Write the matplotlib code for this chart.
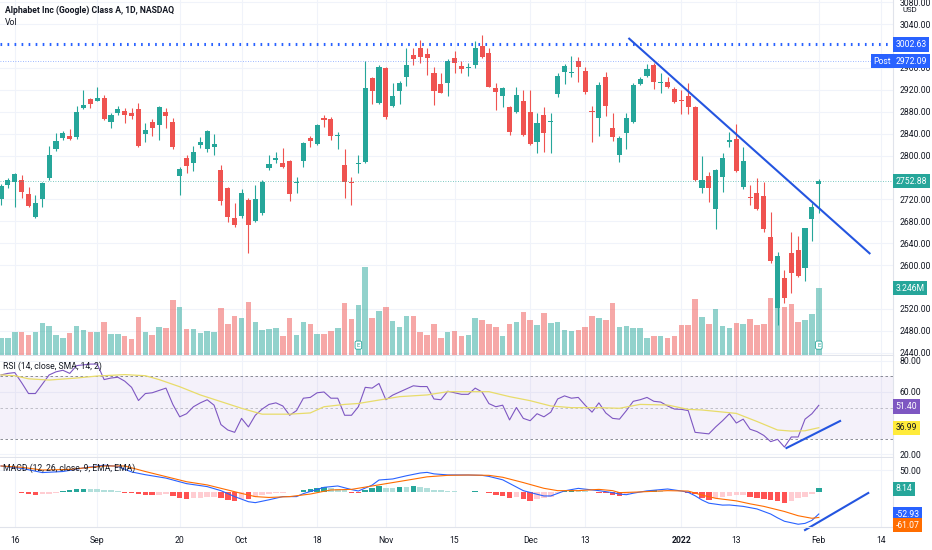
import numpy as np
import matplotlib
matplotlib.use("Agg")
from matplotlib import pyplot as plt
from matplotlib.transforms import blended_transform_factory

plt.rcParams['font.family'] = ['Roboto', 'DejaVu Sans']

# daily candles, 12 Aug 2021 .. 1 Feb 2022 (index = trading day)
opens = [2720, 2746, 2751, 2755.4, 2729.8, 2688.4, 2720.6, 2759.6, 2811.3, 2832.6,
         2835.6, 2833.2, 2887.3, 2902.5, 2900.1, 2904.3, 2861.8, 2877, 2881.9, 2878.2,
         2884.3, 2839.3, 2860.6, 2855.7, 2879.4, 2861.2, 2763.2, 2795.5, 2787, 2819.8,
         2811.3, 2816.2, 2773.5, 2740.7, 2686.6, 2689.6, 2718.8, 2681.1, 2694.5, 2777.8,
         2791.8, 2786.9, 2790, 2749.2, 2790.6, 2832.6, 2821.6, 2867.8, 2866.6, 2836.2,
         2783.3, 2752.3, 2784.5, 2788.8, 2942.1, 2896.4, 2960.3, 2890.4, 2918.3, 2942.7,
         2984, 2996.2, 2985.3, 2950, 2929.9, 2932.9, 2977.3, 2963.4, 2960.3, 2965.2,
         2999.9, 2986.5, 2922.6, 2908.6, 2887.9, 2880, 2900.1, 2880, 2825.3, 2873.3,
         2861.8, 2911.6, 2951.8, 2951.2, 2973.1, 2954.8, 2881.2, 2867.8, 2942.7, 2849.6,
         2800.9, 2841.7, 2861.8, 2930.5, 2945.1, 2965.2, 2932.9, 2934.8, 2920.8, 2901.3,
         2908.6, 2889.1, 2740.1, 2763.2, 2701.8, 2761.4, 2824, 2830.7, 2741.9, 2724.9,
         2731, 2726.1, 2651.9, 2521.1, 2575.8, 2622.7, 2627.6, 2594.1, 2683.5, 2748]
highs = [2748, 2758.5, 2768.7, 2764.5, 2742, 2728, 2752, 2817.4, 2841.7, 2845.4,
         2847.8, 2890.4, 2919.6, 2904.3, 2924.4, 2909.8, 2878.2, 2891, 2887.3, 2886,
         2895.2, 2860, 2867.2, 2890.4, 2886, 2869.1, 2779.7, 2801, 2817.4, 2833.2,
         2846.6, 2839.3, 2782.7, 2743.1, 2712.7, 2738.3, 2721.8, 2746.2, 2755.3, 2800.9,
         2805.8, 2813.1, 2791.8, 2761.4, 2825.3, 2835.6, 2856.9, 2873.9, 2870.9, 2843.5,
         2811.3, 2761.4, 2800.9, 2972.5, 2943.9, 2964.6, 2962.1, 2933, 2936, 2995.6,
         2995.6, 3010.8, 2995.6, 2962.1, 2951.2, 2975.5, 2991.3, 2973.1, 2969.4, 3009.6,
         3019.9, 2995.6, 2932.9, 2924.4, 2890.4, 2925.6, 2919.5, 2919.5, 2878.2, 2887.9,
         2877, 2950, 2967, 2981.6, 2979.2, 2960.9, 2890.4, 2933.6, 2953, 2877,
         2835.6, 2877, 2931.7, 2943.9, 2966.4, 2968.2, 2950, 2943.9, 2925.6, 2919.5,
         2931.7, 2890.4, 2799.1, 2770.5, 2774.8, 2804, 2843.5, 2856.9, 2816.1, 2746.2,
         2758.4, 2752.3, 2697.5, 2624.5, 2591, 2661, 2653.1, 2668.3, 2713.9, 2757]
lows = [2710, 2741.5, 2706.8, 2723, 2706.8, 2685.4, 2706.8, 2755.4, 2808.3, 2828.4,
        2828.4, 2830.8, 2884.9, 2886.1, 2898.9, 2864.8, 2849.6, 2874, 2860, 2866,
        2816.2, 2825.3, 2835.6, 2828.4, 2849.6, 2811.3, 2728, 2767.5, 2772.4, 2813.1,
        2807, 2801, 2709.7, 2679.3, 2670.2, 2685.4, 2621.5, 2679.3, 2691.4, 2773.5,
        2785.7, 2776.6, 2717, 2731, 2778.4, 2816.1, 2819.2, 2851.4, 2828.3, 2811.3,
        2721.9, 2709.7, 2767.5, 2786.9, 2894, 2894, 2866, 2887.9, 2894, 2926.9,
        2965.2, 2969.4, 2947, 2892.2, 2913.5, 2908.6, 2951.2, 2950, 2945.1, 2959.1,
        2978, 2924.4, 2883, 2889.1, 2837.4, 2877, 2835.6, 2819.2, 2805.2, 2807,
        2804, 2906.2, 2929.9, 2942.7, 2934.8, 2912.3, 2825.3, 2835.6, 2872.1, 2827.1,
        2788.8, 2811.3, 2858.7, 2928.7, 2943.9, 2920.8, 2913.5, 2922.6, 2896.4, 2875.7,
        2875.7, 2754.1, 2732.2, 2715.8, 2665.3, 2734, 2814.9, 2770.5, 2738.3, 2709.7,
        2700.6, 2661, 2603.2, 2490.7, 2530.2, 2548.5, 2578.9, 2571.6, 2644.6, 2695]
closes = [2744.5, 2754.5, 2766.3, 2733.5, 2708.5, 2714, 2749.3, 2801, 2825.9, 2841.7,
          2829.5, 2880, 2892.2, 2894, 2905, 2866, 2874, 2885.5, 2874, 2872.1,
          2817.4, 2846.6, 2850.8, 2888.5, 2872.1, 2815, 2774.8, 2781, 2805.8, 2824.7,
          2844.8, 2821, 2717.6, 2688.4, 2673.2, 2731, 2673.8, 2721.3, 2752.3, 2784.5,
          2796.1, 2778.4, 2729.8, 2752.3, 2823.5, 2827.1, 2855, 2864.8, 2835.6, 2838,
          2752.3, 2749.2, 2786.9, 2923.8, 2917.1, 2960.9, 2869.6, 2908.6, 2932.9, 2965.8,
          2976.7, 2980.4, 2978, 2917.7, 2914.7, 2972.5, 2969.4, 2957.3, 2961.5, 2996.8,
          2979.2, 2925.6, 2915.9, 2922.6, 2843.5, 2910.4, 2837.4, 2821, 2860, 2840.5,
          2863.6, 2945.1, 2963.4, 2953, 2960.9, 2916.5, 2879.4, 2928.7, 2890.4, 2834.4,
          2831.3, 2867.8, 2928.7, 2939, 2958.5, 2933.6, 2934.2, 2924.4, 2897.6, 2899.5,
          2887.9, 2755.3, 2755.3, 2741.3, 2773.5, 2794.8, 2827.7, 2771.7, 2790, 2721.8,
          2702.4, 2665.9, 2608, 2616.6, 2539.4, 2586.2, 2580.1, 2667.1, 2706.6, 2752.88]
# volume, millions of shares
volumes = [0.82, 0.82, 1.11, 1.11, 0.97, 1.11, 1.55, 1.41, 0.97, 0.82,
           1.07, 1.41, 1.21, 1.11, 1.11, 1.60, 1.02, 1.02, 0.92, 0.78,
           1.84, 1.11, 0.97, 1.36, 1.31, 2.66, 2.33, 1.26, 1.26, 1.07,
           1.16, 1.11, 2.28, 1.50, 1.89, 1.79, 2.57, 1.60, 1.21, 1.26,
           1.31, 0.92, 1.79, 0.97, 1.60, 1.50, 1.02, 1.02, 1.16, 1.31,
           2.52, 1.74, 2.42, 4.26, 1.79, 2.13, 2.33, 1.65, 1.36, 1.89,
           1.89, 1.11, 0.97, 1.50, 0.82, 1.11, 1.16, 0.92, 0.97, 1.79,
           1.70, 1.50, 1.36, 0.92, 1.50, 1.60, 2.08, 1.70, 1.45, 2.03,
           1.55, 1.60, 1.21, 1.16, 1.21, 1.36, 1.89, 1.79, 1.70, 2.52,
           1.36, 1.41, 1.31, 1.31, 0.82, 0.92, 0.92, 0.82, 0.92, 1.45,
           1.45, 2.71, 1.84, 1.50, 2.23, 1.41, 1.31, 1.55, 1.50, 1.74,
           1.45, 1.50, 2.76, 2.81, 2.33, 2.47, 1.60, 1.70, 1.99, 3.246]

rsi = [71, 72, 72.5, 66, 59, 59, 65, 71, 73, 74,
       72, 77, 77.5, 78, 78, 68, 69, 69.5, 67, 63,
       54.5, 59, 59.5, 61, 62.5, 52, 44, 46, 50.5, 53,
       55, 51.5, 39, 35.5, 34, 43, 37.5, 45, 49, 52,
       53, 51, 45, 48, 56, 56.5, 59.5, 60, 56, 56,
       45, 45, 50.5, 63, 62.5, 65.5, 55, 58, 60, 62,
       64, 63.5, 63.5, 55.5, 55, 60.5, 59.5, 58.5, 58.5, 62.5,
       60, 52.5, 50.5, 51.5, 42, 50, 43, 41.5, 46, 44,
       47, 55.5, 57.5, 56, 56.5, 51.5, 47, 53, 46.5, 43,
       42.5, 48, 54, 55, 56.5, 54, 53.5, 51, 49, 48.8,
       48, 34, 33.5, 33, 37.5, 41.5, 46, 40, 42.5, 36,
       34.5, 32, 28, 29.5, 24.5, 31, 31, 42.5, 46, 51.4]
rsi_ma_x = [0, 2, 4, 7, 11, 14, 18, 21, 23, 26, 29, 32, 35, 38, 42, 45, 47, 50, 52, 55,
            58, 62, 65, 68, 71, 74, 77, 80, 83, 87, 90, 93, 97, 100, 102, 107, 110, 113,
            115, 117, 119]
rsi_ma = [71, 70.5, 68.5, 67.7, 69, 70.3, 71.2, 70.5, 68, 63.4, 58.1, 53.8, 49.5, 45.7,
          45.7, 46.5, 50.5, 52, 52.6, 54.8, 57, 58.1, 60.2, 60.2, 60.2, 57, 54.4, 51, 49.9,
          49.9, 49.5, 52, 51.6, 48.8, 48.4, 46.2, 41, 35.5, 34.8, 35, 36.99]

macd_x = [0, 3, 6, 9, 12, 15, 17, 19, 21, 24, 27, 30, 32, 34, 36, 37, 39, 41, 43, 44,
          45, 47, 49, 51, 52, 54, 55, 57, 59, 61, 62, 63, 65, 68, 70, 71, 73, 75, 76, 78,
          79, 80, 82, 84, 85, 87, 89, 90, 91, 92, 94, 97, 99, 100, 101, 102, 103, 105, 106,
          108, 110, 112, 113, 114, 116, 117, 118, 119]
macd_line = [60, 54.5, 44.5, 47, 55.5, 62, 59, 46, 39.5, 31.5, 18.5, 11.5, 2, -12, -24,
             -26.2, -19.5, -12, -12, -5, 0, 9.8, 13, 4.5, 1.2, 15, 27, 29.5, 37, 43.5, 45,
             41.5, 39, 38.8, 38, 35.5, 27.5, 10.5, 2, -6.5, -10.5, -10.5, 1.5, 7.4, 5.5, 2,
             -2.7, -6, -7.5, -4, 1.5, 5.9, 1.2, -2, -10, -20, -27.5, -32, -31.7, -35, -41,
             -53, -62, -70, -77, -75, -68, -52.93]
signal_x = [0, 3, 6, 10, 15, 18, 21, 24, 27, 30, 33, 35, 37, 39, 42, 45, 47, 48, 51, 54,
            57, 60, 62, 65, 68, 71, 73, 76, 79, 81, 84, 87, 89, 90, 93, 97, 100, 102, 104,
            107, 109, 111, 114, 116, 118, 119]
signal_line = [60, 57, 50.5, 52, 60, 60, 47, 35, 23, 15.5, 3.5, -4.5, -12, -14, -12, -6,
               0.5, 3.6, 5, 13, 21, 29, 34.5, 38, 38.8, 38, 33.5, 21, 7.5, 2, 2, 5, 2, -2.7,
               -1, 2, 1, -8.5, -16, -22, -29, -35, -47, -57, -63, -61.07]
macd_hist = [-1.6, -1.6, 0, -4.7, -7, -9.4, -6.3, -5.5, -3.1, 1.6,
             3.1, 6.3, 7, 7, 5.5, 3.9, 2.4, 0.8, -2.4, -3.1,
             -6.3, -8.6, -9.4, -7.8, -6.3, -11, -15.7, -17.2, -15.7, -14.9,
             -12.5, -11.8, -15.7, -19.6, -22, -17.2, -18.8, -13.3, -9.4, -5.5,
             -3.1, -2.4, -1.6, 0, 3.1, 5.8, 9.4, 11, 9.4, 7,
             3.1, -2.4, -2.4, 4.7, 8.6, 13.3, 9.4, 9.4, 11, 11,
             11.8, 11, 9.4, 4.7, 2.4, 1.6, 0.8, 0, -0.8, 0.8,
             0, -4.7, -7.8, -10.2, -15.7, -12.5, -17.2, -21.2, -17.2, -15.7,
             -12.5, -4.7, 1.6, 3.9, 2.4, 0.8, -1.6, -3.1, -3.9, -7.8,
             -11, -7, -3.1, -0.8, 1.6, 2.4, 0.8, 0, -0.8, -0.8,
             -2.4, -7, -14.9, -19.6, -15.7, -12.5, -10.2, -9.4, -8.6, -11.8,
             -14.9, -17.2, -19.6, -22, -27.4, -21.2, -15.7, -11.8, -5.5, 8.14]

tick_idx = [2, 14, 26, 35, 46, 56, 66, 77, 85, 99, 107, 119, 128]
tick_labels = ['16', 'Sep', '20', 'Oct', '18', 'Nov', '15', 'Dec', '13', '2022', '13', 'Feb', '14']
price_ticks = [2440, 2480, 2520, 2600, 2640, 2680, 2720, 2800, 2840, 2880, 2920, 2960, 3040, 3080]

GREEN, RED = '#26a69a', '#ef5350'
BLUE, ORANGE, PURPLE = '#2962ff', '#ff6d00', '#7e57c2'
TXT, GRID, LINE = '#131722', '#f0f3fa', '#e0e3eb'
FS = 6.2

x = np.arange(len(closes))
o, h, l, c = map(np.array, (opens, highs, lows, closes))
up = c >= o
colors = np.where(up, GREEN, RED)

fig = plt.figure(figsize=(9.32, 5.5), dpi=100)
W, H, RIGHT = 932.0, 550.0, 893.0


def pane(top, bottom, **kw):
    return fig.add_axes([0, 1 - bottom / H, RIGHT / W, (bottom - top) / H], **kw)


def style(a):
    a.yaxis.tick_right()
    a.tick_params(length=0, labelsize=FS, labelcolor=TXT, pad=4.5)
    for s in ['top', 'left']:
        a.spines[s].set_visible(False)
    for s in ['right', 'bottom']:
        a.spines[s].set_color(LINE)
        a.spines[s].set_linewidth(0.8)
    a.grid(color=GRID, lw=0.8)
    a.set_axisbelow(True)
    a.tick_params(axis='x', labelbottom=False)


def tag(a, y, text, fc, tc='white'):
    tr = blended_transform_factory(a.transAxes, a.transData)
    a.text(1.003, y, text, transform=tr, ha='left', va='center', fontsize=FS, color=tc,
           bbox=dict(boxstyle='square,pad=0.3', fc=fc, ec='none'), clip_on=False, zorder=10)


ax_bg = pane(0, 355)
ax_vol = pane(0, 355, sharex=ax_bg)
ax = pane(0, 355, sharex=ax_bg, sharey=ax_bg)
ax_rsi = pane(356, 457, sharex=ax_bg)
ax_macd = pane(458, 527, sharex=ax_bg)

for a in (ax_bg, ax_rsi, ax_macd):
    style(a)

ax_bg.set_xlim(-0.15, 129.8)
ax_bg.set_xticks(tick_idx)
ax_bg.set_xticklabels(tick_labels)
ax_macd.tick_params(axis='x', labelbottom=True, pad=6.5)
for lab in ax_macd.get_xticklabels():
    if lab.get_text() == '2022':
        lab.set_fontweight('bold')

# price pane
ax_bg.set_ylim(2436, 3083.8)
ax_bg.set_yticks(price_ticks)
ax_bg.set_yticklabels([f'{v:.2f}' for v in price_ticks])

ax_vol.bar(x, volumes, width=0.8, color=colors, alpha=0.5, linewidth=0)
ax_vol.set_ylim(0, 17.2)
ax_vol.axis('off')

ax.axis('off')
ax.vlines(x, l, h, color=colors, lw=0.8)
ax.bar(x, np.maximum(np.abs(c - o), 0.9), bottom=np.minimum(o, c), width=0.74,
       color=colors, linewidth=0)

ax.axhline(3002.63, color=BLUE, lw=2.2, ls=(0, (0.55, 1.75)))
ax.axhline(2972.09, color=BLUE, lw=0.6, ls=(0, (1, 2)), alpha=0.6)
ax.axhline(closes[-1], color=GREEN, lw=0.6, ls=(0, (1, 2)), alpha=0.8)
ax.plot([91.3, 126.5], [3014.5, 2620.3], color='#2455e0', lw=1.5, solid_capstyle='butt')

for i in (52, 119):
    ax.text(i, 2454, 'E', ha='center', va='center', fontsize=4.5, color=GREEN,
            bbox=dict(boxstyle='round,pad=0.25', fc='white', ec=GREEN, lw=0.6))

ax.text(0.006, 0.972, 'Alphabet Inc (Google) Class A, 1D, NASDAQ', transform=ax.transAxes,
        fontsize=FS, color=TXT, fontweight='semibold', va='center')
ax.text(0.006, 0.937, 'Vol', transform=ax.transAxes, fontsize=FS, color=TXT, va='center')

tag(ax_bg, 3002.63, '3002.63', BLUE)
tag(ax_bg, 2972.09, '2972.09', BLUE)
tr = blended_transform_factory(ax_bg.transAxes, ax_bg.transData)
ax_bg.text(0.998, 2972.09, 'Post', transform=tr, ha='right', va='center', fontsize=FS,
           color='white', bbox=dict(boxstyle='square,pad=0.3', fc=BLUE, ec='none'), zorder=10)
tag(ax_bg, closes[-1], f'{closes[-1]:.2f}', GREEN)
tag(ax_bg, 2436 + (3083.8 - 2436) * volumes[-1] / 17.2, f'{volumes[-1]:.3f}M', GREEN)
ax_bg.text(1.011, 0.972, 'USD', transform=ax_bg.transAxes, ha='left', va='center',
           fontsize=FS - 0.6, color=TXT, clip_on=False, zorder=10)

# RSI pane
ax_rsi.set_ylim(18.1, 83.2)
ax_rsi.set_yticks([20, 60, 80])
ax_rsi.set_yticklabels(['20.00', '60.00', '80.00'])
ax_rsi.axhspan(30, 70, color=PURPLE, alpha=0.08, lw=0)
for lvl, al in ((70, 1), (50, 0.5), (30, 1)):
    ax_rsi.axhline(lvl, color='#787b86', lw=0.6, ls=(0, (3, 3)), alpha=al)
ax_rsi.plot(x, rsi, color=PURPLE, lw=0.8)
ax_rsi.plot(rsi_ma_x, rsi_ma, color='#e8dc6a', lw=0.9)
ax_rsi.plot([114.3, 122.1], [23.9, 41.3], color='#2455e0', lw=1.5)
ax_rsi.text(0.003, 0.9, 'RSI (14, close, SMA, 14, 2)', transform=ax_rsi.transAxes,
            fontsize=FS, color=TXT, va='center')
tag(ax_rsi, rsi[-1] - 0.8, f'{rsi[-1]:.2f}', PURPLE)
tag(ax_rsi, rsi_ma[-1], f'{rsi_ma[-1]:.2f}', '#ffeb3b', tc=TXT)

# MACD pane
ax_macd.set_ylim(-83.5, 78.8)
ax_macd.set_yticks([50])
ax_macd.set_yticklabels(['50.00'])
hist_colors = []
prev = 0.0
for v in macd_hist:
    if v >= 0:
        hist_colors.append('#26a69a' if v > prev else '#b2dfdb')
    else:
        hist_colors.append('#ffcdd2' if v > prev else '#ff5252')
    prev = v
ax_macd.bar(x, macd_hist, width=0.8, color=hist_colors, linewidth=0)
ax_macd.plot(macd_x, macd_line, color=BLUE, lw=0.8)
ax_macd.plot(signal_x, signal_line, color=ORANGE, lw=0.8)
ax_macd.plot([117, 126.2], [-90.6, -3.5], color='#2455e0', lw=1.5, clip_on=False)
ax_macd.text(0.003, 0.85, 'MACD (12, 26, close, 9, EMA, EMA)', transform=ax_macd.transAxes,
             fontsize=FS, color=TXT, va='center')
tag(ax_macd, macd_hist[-1] - 2, f'{macd_hist[-1]:.2f}', GREEN)
tag(ax_macd, macd_line[-1], f'{macd_line[-1]:.2f}', BLUE)
tag(ax_macd, signal_line[-1] - 18, f'{signal_line[-1]:.2f}', ORANGE)

fig.savefig('out.png', dpi=100)
plt.close(fig)
